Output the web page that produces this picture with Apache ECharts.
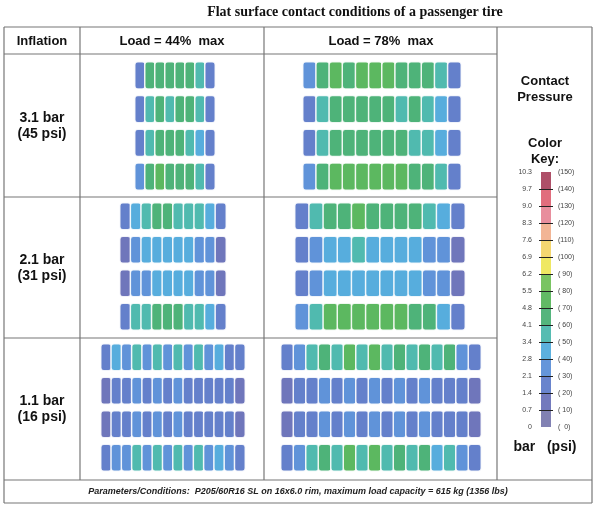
<!DOCTYPE html><html><head><meta charset="utf-8">
<script src="https://cdn.jsdelivr.net/npm/echarts@6/dist/echarts.min.js"></script>
<style>html,body{margin:0;padding:0;background:#fff}#c{width:595px;height:506px}</style></head><body><div id="c"></div>
<script>
// pressure values (bar) per footprint: 4 ribs x columns (2 per tread block)
const p31_44 = [
 [2.0,4.3,4.6,4.4,4.5,4.7,3.8,1.8],
 [1.6,3.6,4.2,4.0,4.3,4.1,3.4,1.5],
 [1.6,3.5,4.4,4.3,4.2,4.0,3.3,1.6],
 [2.2,4.5,5.0,4.6,4.7,4.5,3.9,1.9]];
const p31_78 = [
 [2.2,4.6,5.0,4.7,5.2,4.8,4.9,4.6,4.4,4.2,3.6,1.8],
 [1.8,3.6,4.3,4.1,4.6,4.2,4.4,4.0,4.1,3.8,3.2,1.6],
 [1.7,3.5,4.2,4.3,4.5,4.3,4.2,4.1,4.0,3.7,3.1,1.6],
 [2.3,4.7,5.2,4.9,5.4,5.0,5.1,4.8,4.6,4.4,3.7,1.9]];
const p21_44 = [
 [1.8,3.2,3.9,4.1,4.2,4.0,3.9,3.6,2.8,1.6],
 [1.3,2.4,2.8,3.0,3.2,3.0,2.9,2.6,2.2,1.3],
 [1.3,2.3,2.7,3.1,3.0,3.1,2.8,2.5,2.1,1.2],
 [1.8,3.4,4.0,4.3,4.4,4.2,4.0,3.7,2.9,1.7]];
const p21_78 = [
 [2.0,3.8,4.4,4.6,4.8,4.5,4.7,4.4,4.3,4.0,3.2,1.7],
 [1.4,2.6,3.0,3.2,3.4,3.2,3.3,3.0,2.9,2.6,2.2,1.3],
 [1.4,2.5,3.0,3.3,3.3,3.2,3.1,3.0,2.8,2.5,2.1,1.3],
 [2.1,4.0,4.8,5.0,5.3,5.0,5.2,4.9,4.7,4.3,3.3,1.8]];
const p11_44 = [
 [1.6,2.8,2.4,3.6,2.5,3.8,2.4,3.7,2.5,3.4,2.3,3.0,2.0,1.4],
 [1.2,1.9,1.7,2.1,1.8,2.2,1.7,2.1,1.8,2.0,1.7,1.9,1.5,1.1],
 [1.2,1.8,1.7,2.2,1.8,2.1,1.7,2.2,1.8,2.0,1.6,1.9,1.5,1.1],
 [1.6,2.7,2.5,3.5,2.6,3.9,2.5,3.8,2.6,3.5,2.4,2.9,2.1,1.4]];
const p11_78 = [
 [1.6,2.6,3.8,4.6,3.6,4.8,3.9,5.0,3.7,4.7,3.6,4.6,3.4,4.2,2.4,1.5],
 [1.2,1.8,1.9,2.3,1.9,2.4,2.0,2.5,1.9,2.3,1.8,2.2,1.8,2.0,1.6,1.1],
 [1.2,1.7,1.9,2.2,1.9,2.3,1.9,2.4,1.9,2.2,1.8,2.1,1.7,1.9,1.5,1.1],
 [1.5,2.5,3.6,4.5,3.5,4.9,3.8,4.8,3.6,4.6,3.5,4.4,3.3,4.0,2.3,1.4]];
const barTicks = ['0','0.7','1.4','2.1','2.8','3.4','4.1','4.8','5.5','6.2','6.9','7.6','8.3','9.0','9.7','10.3'];
const psiTicks = ['(  0)','( 10)','( 20)','( 30)','( 40)','( 50)','( 60)','( 70)','( 80)','( 90)','(100)','(110)','(120)','(130)','(140)','(150)'];
const bandColors = ['#6b6ba6','#5b63b2','#4f6ec4','#4a84d4','#40a2d8','#38b0a4','#36a866','#46ae4a','#62ba46','#ece448','#f2d058','#f0a882','#e47a8c','#dc5466','#a0304e'];
const bandEdges = [0,0.7,1.4,2.1,2.8,3.4,4.1,4.8,5.5,6.2,6.9,7.6,8.3,9.0,9.7,11];
const rowLabels = ['3.1 bar\n(45 psi)','2.1 bar\n(31 psi)','1.1 bar\n(16 psi)'];

const panels = [
 {d:p31_44,l:135,t:62,w:80,h:128},
 {d:p31_78,l:303,t:62,w:158,h:128},
 {d:p21_44,l:120,t:203,w:106,h:127},
 {d:p21_78,l:295,t:203,w:170,h:127},
 {d:p11_44,l:101,t:344,w:144,h:127},
 {d:p11_78,l:281,t:344,w:200,h:127}];

const grid=[],xAxis=[],yAxis=[],series=[];
let gi=0;
const ribGap=7;
panels.forEach((p)=>{
  const rh=(p.h-3*ribGap)/4;
  p.d.forEach((row,r)=>{
    grid.push({left:p.l,top:p.t+r*(rh+ribGap),width:p.w,height:rh});
    xAxis.push({type:'category',gridIndex:gi,data:row.map((_,j)=>j),show:false});
    yAxis.push({type:'category',gridIndex:gi,data:[0],show:false});
    series.push({type:'heatmap',xAxisIndex:gi,yAxisIndex:gi,data:row.map((v,c)=>[c,0,v]),
      itemStyle:{borderColor:'#fff',borderWidth:c=>1,opacity:0.88,borderRadius:3}});
    series[series.length-1].itemStyle.borderWidth=1.5;
    gi++;
  });
});
const hmIdx=series.map((_,i)=>i);
// colour key
const ki=gi;
grid.push({left:541,top:172,width:10,height:255});
xAxis.push({type:'category',gridIndex:ki,data:['k'],show:false});
yAxis.push({type:'value',gridIndex:ki,min:0,max:15,interval:1,
  axisLine:{show:false},axisTick:{show:false},splitLine:{show:false},
  axisLabel:{formatter:(v)=>barTicks[v],fontSize:7,color:'#444',margin:9,fontFamily:'Liberation Sans'}});
yAxis.push({type:'value',gridIndex:ki,min:0,max:15,interval:1,position:'right',
  axisLine:{show:false},axisTick:{show:false},splitLine:{show:false},
  axisLabel:{formatter:(v)=>psiTicks[v],fontSize:7,color:'#444',margin:7,fontFamily:'Liberation Sans'}});
bandColors.forEach((c,i)=>series.push({type:'bar',xAxisIndex:ki,yAxisIndex:gi,stack:'k',data:[1],
  barWidth:10,itemStyle:{color:c,opacity:0.85},silent:true,
  markLine:i>0?{silent:true,symbol:'none',label:{show:false},lineStyle:{color:'#222',width:1,type:'solid'},
    data:[[{coord:['k',i],x:539},{coord:['k',i],x:553}]]}:undefined}));

const pieces=bandColors.map((c,i)=>({gte:bandEdges[i],lt:bandEdges[i+1],color:c}));

const L='#777';
const line=(x1,y1,x2,y2,w)=>({type:'line',shape:{x1,y1,x2,y2},style:{stroke:L,lineWidth:w||1.2}});
const txt=(x,y,t,o)=>({type:'text',x,y,style:Object.assign({text:t,fill:'#111',font:'bold 13px "Liberation Sans"',align:'center',verticalAlign:'middle',lineHeight:16},o||{})});
const graphic=[
 txt(355,12,'Flat surface contact conditions of a passenger tire',{font:'bold 14px "Liberation Serif"'}),
 line(4,27,592,27),line(4,503,592,503),line(4,27,4,503),line(592,27,592,503),
 line(4,54,497,54),line(4,197,497,197),line(4,338,497,338),line(4,480,592,480),
 line(80,27,80,480),line(264,27,264,480),line(497,27,497,480),
 txt(42,41,'Inflation'),txt(172,41,'Load = 44%  max'),txt(381,41,'Load = 78%  max'),
 txt(42,126,rowLabels[0],{font:'bold 14px "Liberation Sans"'}),
 txt(42,268,rowLabels[1],{font:'bold 14px "Liberation Sans"'}),
 txt(42,409,rowLabels[2],{font:'bold 14px "Liberation Sans"'}),
 txt(545,89,'Contact\nPressure'),txt(545,151,'Color\nKey:'),
 txt(545,447,'bar   (psi)',{font:'bold 14px "Liberation Sans"'}),
 txt(298,492,'Parameters/Conditions:  P205/60R16 SL on 16x6.0 rim, maximum load capacity = 615 kg (1356 lbs)',{font:'italic bold 9px "Liberation Sans"',fill:'#222'})
];
const chart=echarts.init(document.getElementById('c'));
chart.setOption({animation:false,grid,xAxis,yAxis,series,graphic,
  visualMap:{type:'piecewise',show:false,seriesIndex:hmIdx,dimension:2,pieces}});
</script></body></html>
